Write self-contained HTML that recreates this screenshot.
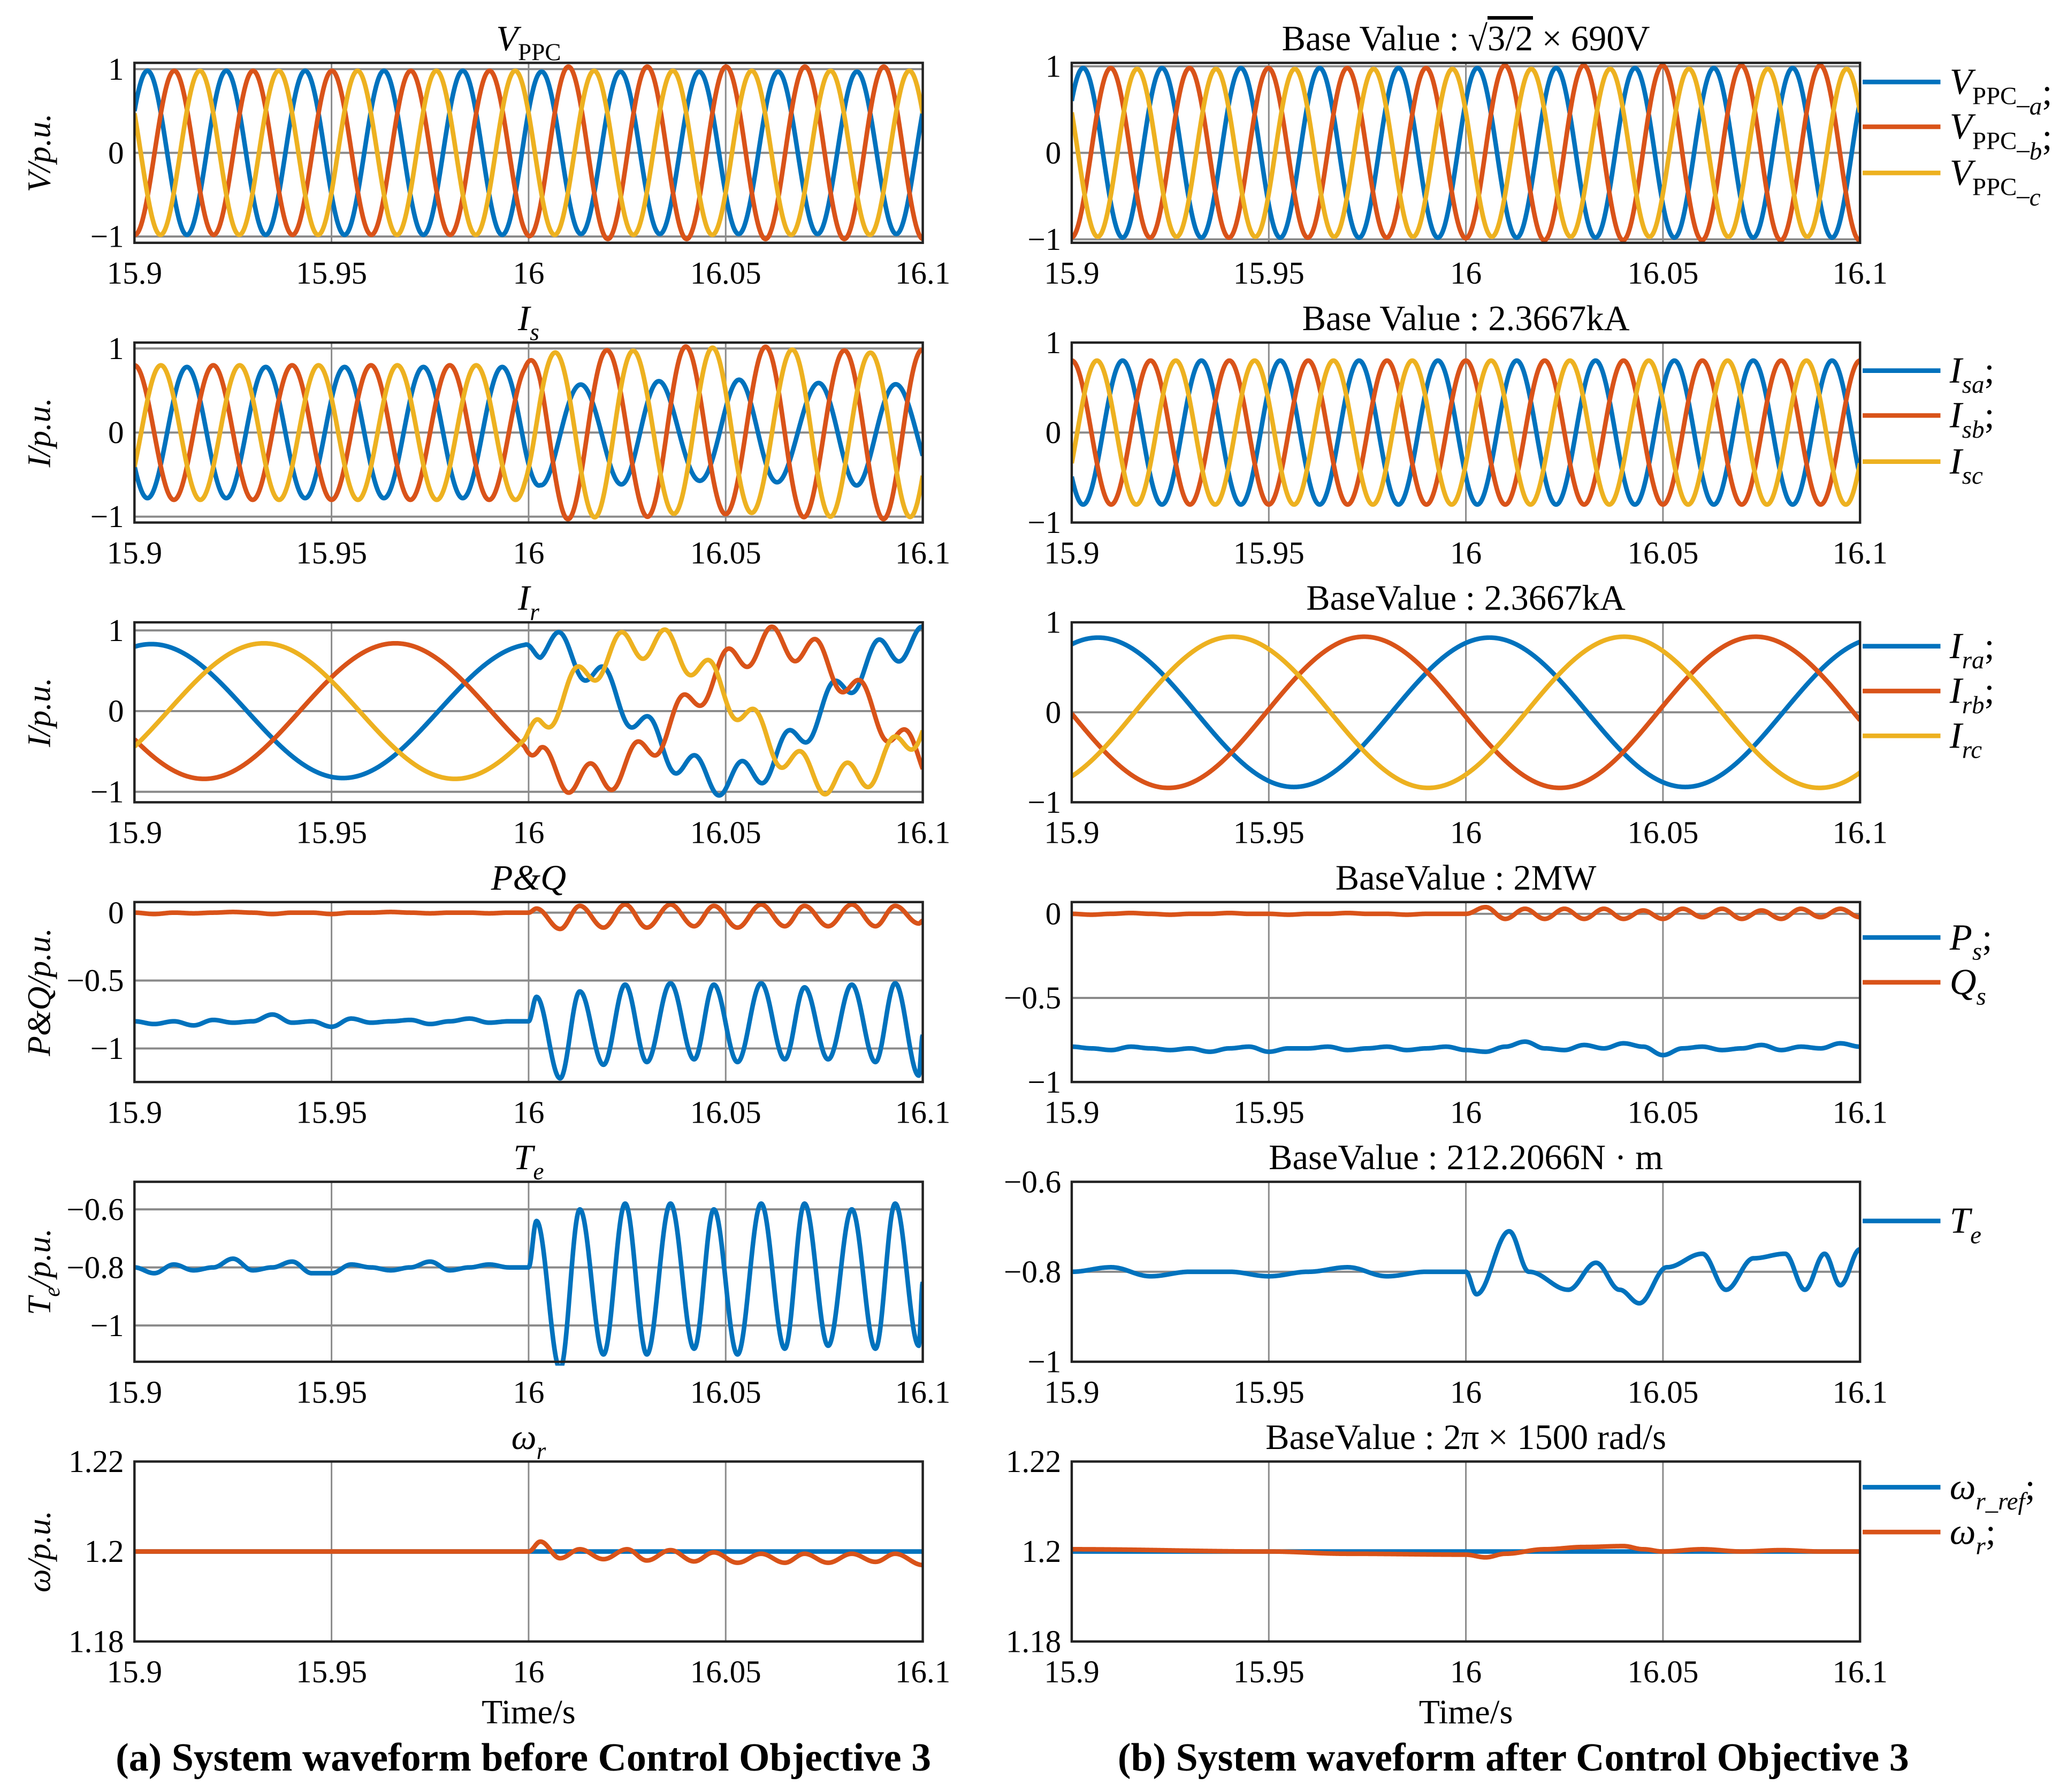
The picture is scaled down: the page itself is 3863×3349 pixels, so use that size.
<!DOCTYPE html>
<html><head><meta charset="utf-8">
<style>
html,body{margin:0;padding:0;background:#fff;}
svg{display:block;}
text{font-family:"Liberation Serif",serif;fill:#000;}
</style></head>
<body>
<svg id="chart" xmlns="http://www.w3.org/2000/svg" width="3863" height="3349" viewBox="0 0 1568 1359"></svg>
<script>
// ---------- data arrays ----------
const envT = [15.9, 15.999, 16.003, 16.1];
// Left V_PPC
const LV_freq = 50;
const LV_peak = [15.9033, 15.9101, 15.9166];
const LV_ampA = [0.98, 0.98, 0.97, 0.97];
const LV_ampB = [0.98, 0.98, 1.03, 1.03];
const LV_ampC = [0.98, 0.98, 0.98, 0.98];
// Right V_PPC
const RV_freq = 50;
const RV_peak = [15.9029, 15.9099, 15.9166];
const RV_ampA = [0.98, 0.98, 0.98, 0.98];
const RV_ampB = [0.98, 0.98, 1.01, 1.01];
const RV_ampC = [0.97, 0.97, 0.97, 0.97];
// Left I_s
const LIs_freq = 50;
const LIs_peak = [15.9133, 15.9, 15.9067];
const LIs_ampA = [0.78, 0.78, 0.6, 0.6];
const LIs_ampB = [0.8, 0.8, 1.0, 1.0];
const LIs_ampC = [0.8, 0.8, 0.98, 0.98];
const LIs_ripple = [0, 0, 0.03, 0.03];
// Right I_s
const RIs_freq = 50;
const RIs_peak = [15.9129, 15.9, 15.9064];
const RIs_ampA = [0.8, 0.8, 0.8, 0.8];
const RIs_ampB = [0.8, 0.8, 0.8, 0.8];
const RIs_ampC = [0.8, 0.8, 0.8, 0.8];
const RIs_ripple = [0, 0, 0, 0];
// Left I_r
const LIr_freq = 10.3;
const LIr_peak = [15.9043, 15.9662, 15.9328];
const LIr_ampA = [0.83, 0.83, 0.85, 0.85];
const LIr_ampB = [0.84, 0.84, 0.85, 0.85];
const LIr_ampC = [0.84, 0.84, 0.85, 0.85];
const LIr_ripple = [0, 0, 0.2, 0.2];
// Right I_r
const RIr_freq = 10.07;
const RIr_peak = [15.9067, 15.9742, 15.9408];
const RIr_ampA = [0.83, 0.83, 0.83, 0.83];
const RIr_ampB = [0.84, 0.84, 0.84, 0.84];
const RIr_ampC = [0.84, 0.84, 0.84, 0.84];
const RIr_ripple = [0, 0, 0, 0];
const rippleFreq = 87;

const LP_t = [15.9,15.905,15.91,15.915,15.92,15.925,15.93,15.935,15.94,15.945,15.95,15.955,15.96,15.965,15.97,15.975,15.98,15.985,15.99,15.995,16.0,16.002,16.008,16.013,16.019,16.0245,16.030,16.036,16.042,16.047,16.053,16.059,16.065,16.070,16.076,16.082,16.088,16.093,16.099,16.1];
const LP_v = [-0.80,-0.82,-0.80,-0.83,-0.79,-0.81,-0.80,-0.75,-0.81,-0.80,-0.84,-0.78,-0.81,-0.80,-0.79,-0.82,-0.80,-0.78,-0.81,-0.80,-0.80,-0.62,-1.22,-0.58,-1.12,-0.53,-1.10,-0.52,-1.08,-0.53,-1.10,-0.52,-1.08,-0.55,-1.08,-0.53,-1.10,-0.52,-1.2,-0.9];
const LQ_t = LP_t;
const LQ_v = [0,-0.01,0,-0.005,0,0.005,0,-0.01,0,0,-0.01,0,0,0.005,0,-0.005,0,0,-0.005,0,0,0.03,-0.12,0.05,-0.11,0.06,-0.11,0.06,-0.1,0.05,-0.11,0.06,-0.1,0.05,-0.1,0.06,-0.1,0.05,-0.08,-0.06];
const RP_t = [15.9,15.905,15.91,15.915,15.92,15.925,15.93,15.935,15.94,15.945,15.95,15.955,15.96,15.965,15.97,15.975,15.98,15.985,15.99,15.995,16.0,16.005,16.01,16.015,16.02,16.025,16.03,16.035,16.04,16.045,16.05,16.055,16.06,16.065,16.07,16.075,16.08,16.085,16.09,16.095,16.1];
const RP_v = [-0.79,-0.8,-0.81,-0.79,-0.8,-0.81,-0.8,-0.82,-0.8,-0.79,-0.82,-0.8,-0.8,-0.79,-0.81,-0.8,-0.79,-0.81,-0.8,-0.79,-0.81,-0.82,-0.79,-0.76,-0.8,-0.81,-0.78,-0.8,-0.77,-0.79,-0.84,-0.8,-0.79,-0.81,-0.8,-0.78,-0.81,-0.79,-0.8,-0.77,-0.79];
const RQ_t = RP_t;
const RQ_v = [0,-0.005,0,0.005,0,-0.005,0,0,0.005,0,0,-0.005,0,0,0.005,0,0,-0.005,0,0,0,0.04,-0.03,0.03,-0.03,0.03,-0.03,0.03,-0.03,0.02,-0.03,0.03,-0.02,0.03,-0.03,0.02,-0.03,0.03,-0.02,0.03,-0.02];
const LTe_t = LP_t;
const LTe_v = [-0.80,-0.82,-0.79,-0.81,-0.8,-0.77,-0.81,-0.8,-0.78,-0.82,-0.82,-0.79,-0.8,-0.81,-0.8,-0.78,-0.81,-0.8,-0.79,-0.8,-0.8,-0.64,-1.15,-0.6,-1.1,-0.58,-1.1,-0.58,-1.08,-0.6,-1.1,-0.58,-1.08,-0.58,-1.07,-0.6,-1.08,-0.58,-1.07,-0.85];
const RTe_t = [15.9,15.91,15.92,15.93,15.94,15.95,15.96,15.97,15.98,15.99,16.0,16.0027,16.011,16.016,16.026,16.033,16.039,16.044,16.051,16.06,16.066,16.073,16.081,16.086,16.091,16.095,16.1];
const RTe_v = [-0.8,-0.79,-0.81,-0.8,-0.8,-0.81,-0.8,-0.79,-0.81,-0.8,-0.8,-0.85,-0.71,-0.8,-0.84,-0.78,-0.84,-0.87,-0.79,-0.76,-0.84,-0.77,-0.76,-0.84,-0.76,-0.83,-0.75];
const LW_t = [15.9,15.95,16.0,16.003,16.008,16.013,16.019,16.025,16.03,16.036,16.042,16.047,16.053,16.059,16.065,16.07,16.076,16.082,16.088,16.093,16.1];
const LW_v = [1.2,1.2,1.2,1.2022,1.1985,1.2005,1.1983,1.2005,1.198,1.2003,1.1978,1.1998,1.1975,1.1995,1.1975,1.1995,1.1975,1.1995,1.1977,1.1995,1.197];
const RW_t = [15.9,15.95,15.97,16.0,16.005,16.01,16.02,16.03,16.04,16.045,16.05,16.06,16.07,16.08,16.09,16.1];
const RW_v = [1.2005,1.2,1.1995,1.1993,1.1987,1.1995,1.2005,1.201,1.2012,1.2005,1.2,1.2005,1.2,1.2003,1.2,1.2];
const Wref_t = [15.9, 16.1];
const Wref_v = [1.2, 1.2];

const xTicks = [15.9, 15.95, 16, 16.05, 16.1];
const xTickLabels = ["15.9", "15.95", "16", "16.05", "16.1"];

// ---------- rendering ----------
const NS = "http://www.w3.org/2000/svg";
const svg = document.getElementById("chart");
const C = {a:"#0072BD", b:"#D95319", c:"#EDB120"};
const SIDE = {L:[102,700], R:[813,1411]};
function rowTop(k){ return 47.5 + 212.2*k; }
const H = 136.5;
const TICK = 24;

function el(tag, attrs, parent){
  const e = document.createElementNS(NS, tag);
  for (const k in attrs) e.setAttribute(k, attrs[k]);
  (parent||svg).appendChild(e);
  return e;
}
function interpLin(ts, vs, t){
  if (t<=ts[0]) return vs[0];
  for (let i=1;i<ts.length;i++) if (t<=ts[i]){ const u=(t-ts[i-1])/(ts[i]-ts[i-1]); return vs[i-1]+(vs[i]-vs[i-1])*u; }
  return vs[vs.length-1];
}
function interpCos(ts, vs, t){
  if (t<=ts[0]) return vs[0];
  for (let i=1;i<ts.length;i++) if (t<=ts[i]){ const u=(t-ts[i-1])/(ts[i]-ts[i-1]); return vs[i-1]+(vs[i]-vs[i-1])*(1-Math.cos(Math.PI*u))/2; }
  return vs[vs.length-1];
}
function makeAxes(side, k, dom){
  const [x0,x1] = SIDE[side];
  const top = rowTop(k), bot = top+H;
  const sx = t => x0 + (t-15.9)/0.2*(x1-x0);
  const sy = v => bot - (v-dom[0])/(dom[1]-dom[0])*H;
  return {x0,x1,top,bot,sx,sy};
}
function drawFrame(ax, yTicks, yLabels, name){
  const g = el("g", {});
  
  
  yTicks.forEach(v=>{
    const y = ax.sy(v);
    const l = el("line",{x1:ax.x0,x2:ax.x1,y1:y,y2:y,stroke:"#8a8a8a","stroke-width":1.6},g);
    
    
  });
  xTicks.forEach((t,i)=>{
    const x = ax.sx(t);
    const l = el("line",{x1:x,x2:x,y1:ax.top,y2:ax.bot,stroke:"#8a8a8a","stroke-width":1.2},g);
    
    
    const tx = el("text",{x:x,y:ax.bot+31,"font-size":TICK,"text-anchor":"middle"},g);
    tx.textContent = xTickLabels[i];
    
    
  });
  yTicks.forEach((v,i)=>{
    const tx = el("text",{x:ax.x0-8,y:ax.sy(v)+8,"font-size":TICK,"text-anchor":"end"},g);
    tx.textContent = yLabels[i];
    
    
  });
  return g;
}
function drawBox(ax){
  const r = el("rect",{x:ax.x0,y:ax.top,width:ax.x1-ax.x0,height:H,fill:"none",stroke:"#222","stroke-width":1.8});
  
  
}
function path(ax, fn, color, name, clip){
  let d="";
  const N=1400;
  for(let i=0;i<=N;i++){
    const t=15.9+0.2*i/N;
    let y=ax.sy(fn(t));
    d+=(i?"L":"M")+ax.sx(t).toFixed(2)+","+y.toFixed(2);
  }
  const p = el("path",{d:d,fill:"none",stroke:color,"stroke-width":3.5,"stroke-linejoin":"round","clip-path":"url(#"+clip+")"});
  
  
}
const defs = el("defs",{});
let clipN=0;
function clipFor(ax){
  const id="clip"+(clipN++);
  const cp = el("clipPath",{id:id},defs);
  el("rect",{x:ax.x0,y:ax.top-3,width:ax.x1-ax.x0,height:H+6},cp);
  return id;
}
function sinus(freq, peak, ampArr, ripArr, idx){
  return t => interpLin(envT, ampArr, t)*Math.cos(2*Math.PI*freq*(t-peak)) +
    (ripArr ? interpLin(envT, ripArr, t)*Math.cos(2*Math.PI*rippleFreq*(t-16.008) + idx*2.1) : 0);
}
function threePhase(side,k,dom,yt,yl,freq,peaks,amps,rip,name){
  const ax = makeAxes(side,k,dom);
  drawFrame(ax,yt,yl,name);
  const cid = clipFor(ax);
  ["a","b","c"].forEach((ph,i)=>{
    path(ax, sinus(freq,peaks[i],amps[i],rip,i), C[ph], name+'-phase-'+ph, cid);
  });
  drawBox(ax);
}
function knotPlot(side,k,dom,yt,yl,series,name){
  const ax = makeAxes(side,k,dom);
  drawFrame(ax,yt,yl,name);
  const cid = clipFor(ax);
  series.forEach(s=>{
    path(ax, t=>interpCos(s.t,s.v,t), s.c, name+'-'+s.n, cid);
  });
  drawBox(ax);
}
const pm = ["1","0","\u22121"];
threePhase("L",0,[-1.075,1.075],[1,0,-1],pm,LV_freq,LV_peak,[LV_ampA,LV_ampB,LV_ampC],null,"left-vppc");
threePhase("R",0,[-1.04,1.04],[1,0,-1],pm,RV_freq,RV_peak,[RV_ampA,RV_ampB,RV_ampC],null,"right-vppc");
threePhase("L",1,[-1.07,1.07],[1,0,-1],pm,LIs_freq,LIs_peak,[LIs_ampA,LIs_ampB,LIs_ampC],LIs_ripple,"left-is");
threePhase("R",1,[-1,1],[1,0,-1],pm,RIs_freq,RIs_peak,[RIs_ampA,RIs_ampB,RIs_ampC],RIs_ripple,"right-is");
threePhase("L",2,[-1.13,1.1],[1,0,-1],pm,LIr_freq,LIr_peak,[LIr_ampA,LIr_ampB,LIr_ampC],LIr_ripple,"left-ir");
threePhase("R",2,[-1,1],[1,0,-1],pm,RIr_freq,RIr_peak,[RIr_ampA,RIr_ampB,RIr_ampC],RIr_ripple,"right-ir");
knotPlot("L",3,[-1.247,0.078],[0,-0.5,-1],["0","\u22120.5","\u22121"],[{t:LP_t,v:LP_v,c:C.a,n:"ps"},{t:LQ_t,v:LQ_v,c:C.b,n:"qs"}],"left-pq");
knotPlot("R",3,[-1,0.07],[0,-0.5,-1],["0","\u22120.5","\u22121"],[{t:RP_t,v:RP_v,c:C.a,n:"ps"},{t:RQ_t,v:RQ_v,c:C.b,n:"qs"}],"right-pq");
knotPlot("L",4,[-1.125,-0.505],[-0.6,-0.8,-1],["\u22120.6","\u22120.8","\u22121"],[{t:LTe_t,v:LTe_v,c:C.a,n:"te"}],"left-te");
knotPlot("R",4,[-1,-0.6],[-0.6,-0.8,-1],["\u22120.6","\u22120.8","\u22121"],[{t:RTe_t,v:RTe_v,c:C.a,n:"te"}],"right-te");
knotPlot("L",5,[1.18,1.22],[1.22,1.2,1.18],["1.22","1.2","1.18"],[{t:Wref_t,v:Wref_v,c:C.a,n:"wref"},{t:LW_t,v:LW_v,c:C.b,n:"wr"}],"left-omega");
knotPlot("R",5,[1.18,1.22],[1.22,1.2,1.18],["1.22","1.2","1.18"],[{t:Wref_t,v:Wref_v,c:C.a,n:"wref"},{t:RW_t,v:RW_v,c:C.b,n:"wr"}],"right-omega");

// ---------- titles, labels, legends ----------
function richText(x,y,size,anchor,parts,name,extra){
  const t = el("text",Object.assign({x:x,y:y,"font-size":size,"text-anchor":anchor},extra||{}));
  parts.forEach(p=>{
    const s = el("tspan",{},t);
    if(p.i) s.setAttribute("font-style","italic");
    if(p.sub){ s.setAttribute("font-size",size*0.68); s.setAttribute("dy", size*0.28); }
    if(p.up){ s.setAttribute("dy", -size*0.28); }
    if(p.ol){ s.setAttribute("text-decoration","overline"); }
    s.textContent = p.s;
  });
  
  
  return t;
}
const ttlY = k => 38 + 212.2*k;
const TS = 27;
richText(401,ttlY(0),TS,"middle",[{s:"V",i:1},{s:"PPC",sub:1}],"title-vppc");
richText(401,ttlY(1),TS,"middle",[{s:"I",i:1},{s:"s",i:1,sub:1}],"title-is");
richText(401,ttlY(2),TS,"middle",[{s:"I",i:1},{s:"r",i:1,sub:1}],"title-ir");
richText(401,ttlY(3),TS,"middle",[{s:"P&Q",i:1}],"title-pq");
richText(401,ttlY(4),TS,"middle",[{s:"T",i:1},{s:"e",i:1,sub:1}],"title-te");
richText(401,ttlY(5),TS,"middle",[{s:"ω",i:1},{s:"r",i:1,sub:1}],"title-omega");
richText(1112,ttlY(0),TS,"middle",[{s:"Base Value : √"},{s:"3/2",ol:1},{s:" × 690V"}],"title-base-voltage");
richText(1112,ttlY(1),TS,"middle",[{s:"Base Value :  2.3667kA"}],"title-base-is");
richText(1112,ttlY(2),TS,"middle",[{s:"BaseValue :  2.3667kA"}],"title-base-ir");
richText(1112,ttlY(3),TS,"middle",[{s:"BaseValue :  2MW"}],"title-base-power");
richText(1112,ttlY(4),TS,"middle",[{s:"BaseValue :  212.2066N · m"}],"title-base-torque");
richText(1112,ttlY(5),TS,"middle",[{s:"BaseValue :  2π × 1500 rad/s"}],"title-base-speed");

const ylabs = [[{s:"V/p.u.",i:1}],[{s:"I/p.u.",i:1}],[{s:"I/p.u.",i:1}],[{s:"P&Q/p.u.",i:1}],[{s:"T",i:1},{s:"e",i:1,sub:1},{s:"/p.u.",i:1,up:1}],[{s:"ω/p.u.",i:1}]];
ylabs.forEach((p,k)=>{
  const cy = rowTop(k)+H/2;
  richText(0,0,25,"middle",p,"y-axis-title",{transform:"translate(38,"+cy+") rotate(-90)"});
});
richText(401,1307,26,"middle",[{s:"Time/s"}],"x-axis-title-left");
richText(1112,1307,26,"middle",[{s:"Time/s"}],"x-axis-title-right");
richText(397,1343,30,"middle",[{s:"(a) System waveform before Control Objective 3"}],"caption-left",{"font-weight":"bold"});
richText(1148,1343,30,"middle",[{s:"(b) System waveform after Control Objective 3"}],"caption-right",{"font-weight":"bold"});

const legends = [
  [62,C.a,[{s:"V",i:1},{s:"PPC_",sub:1},{s:"a",i:1,sub:1},{s:";",up:1}]],
  [96,C.b,[{s:"V",i:1},{s:"PPC_",sub:1},{s:"b",i:1,sub:1},{s:";",up:1}]],
  [131,C.c,[{s:"V",i:1},{s:"PPC_",sub:1},{s:"c",i:1,sub:1}]],
  [281,C.a,[{s:"I",i:1},{s:"sa",i:1,sub:1},{s:";",up:1}]],
  [315,C.b,[{s:"I",i:1},{s:"sb",i:1,sub:1},{s:";",up:1}]],
  [350,C.c,[{s:"I",i:1},{s:"sc",i:1,sub:1}]],
  [490,C.a,[{s:"I",i:1},{s:"ra",i:1,sub:1},{s:";",up:1}]],
  [524,C.b,[{s:"I",i:1},{s:"rb",i:1,sub:1},{s:";",up:1}]],
  [558,C.c,[{s:"I",i:1},{s:"rc",i:1,sub:1}]],
  [711,C.a,[{s:"P",i:1},{s:"s",i:1,sub:1},{s:";",up:1}]],
  [745,C.b,[{s:"Q",i:1},{s:"s",i:1,sub:1}]],
  [926,C.a,[{s:"T",i:1},{s:"e",i:1,sub:1}]],
  [1128,C.a,[{s:"ω",i:1},{s:"r_ref",i:1,sub:1},{s:";",up:1}]],
  [1162,C.b,[{s:"ω",i:1},{s:"r",i:1,sub:1},{s:";",up:1}]]
];
legends.forEach(L=>{
  const g = el("g",{});
  
  
  const ln = el("line",{x1:1413,x2:1472,y1:L[0],y2:L[0],stroke:L[1],"stroke-width":3.5},g);
  
  
  const t = richText(1479,L[0]+9,28,"start",L[2],"legend-label");
  g.appendChild(t);
});
</script>
</body></html>
